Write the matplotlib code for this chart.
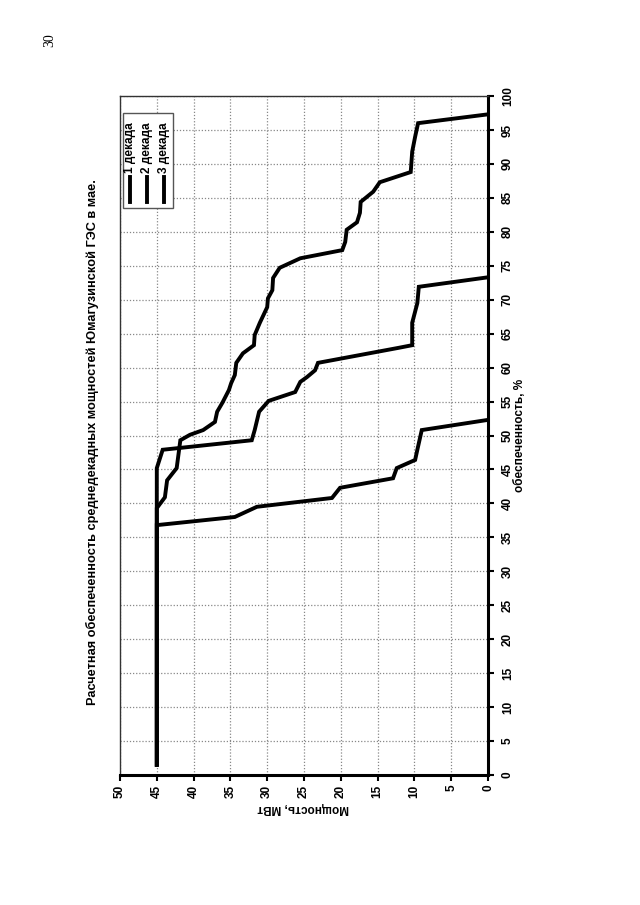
import matplotlib
matplotlib.use('Agg')
import matplotlib.pyplot as plt
from matplotlib.patches import Rectangle
from matplotlib.lines import Line2D

plt.rcParams['font.family'] = ['Liberation Sans', 'DejaVu Sans']

title = 'Расчетная обеспеченность среднедекадных мощностей Юмагузинской ГЭС в мае.'
xlabel = 'обеспеченность, %'
ylabel = 'Мощность, МВт'
labels = ['1 декада', '2 декада', '3 декада']

# обеспеченность, % / мощность, МВт
p1 = [1.5, 39.3, 40.9, 43.4, 45.2, 49.3, 50.1, 50.8, 52.0, 53.5, 54.8, 56.7, 57.7, 58.9,
      60.7, 62.1, 63.3, 64.8, 66.6, 68.9, 70.2, 71.4, 73.2, 74.7, 76.1, 77.3, 78.5, 80.3,
      81.4, 82.8, 84.4, 85.9, 87.3, 88.8, 91.8, 94.0, 96.0, 97.3]
n1 = [45.0, 45.0, 43.9, 43.6, 42.3, 41.8, 40.5, 38.7, 37.1, 36.8, 36.1, 35.2, 34.9, 34.4,
      34.2, 33.3, 31.8, 31.7, 31.0, 30.0, 29.9, 29.3, 29.2, 28.3, 25.5, 19.8, 19.4, 19.2,
      17.8, 17.4, 17.3, 15.6, 14.7, 10.5, 10.3, 9.9, 9.5, 0.0]

p2 = [1.5, 45.2, 47.9, 49.3, 50.8, 53.5, 55.1, 56.4, 57.9, 58.6, 59.6, 60.7, 62.9, 63.3,
      66.6, 69.5, 71.9, 73.3]
n2 = [45.0, 45.0, 44.2, 32.1, 31.7, 31.1, 29.8, 26.2, 25.5, 24.6, 23.5, 23.1, 12.2, 10.3,
      10.3, 9.6, 9.4, 0.0]

p3 = [1.5, 36.8, 38.0, 39.5, 40.8, 42.3, 43.7, 45.2, 46.4, 47.9, 50.8, 52.3]
n3 = [45.0, 45.0, 34.4, 31.4, 21.2, 20.1, 12.9, 12.4, 9.9, 9.6, 9.0, 0.0]

fig = plt.figure(figsize=(6.4, 9.05), dpi=100)
ax = fig.add_axes([120 / 640, 1 - 775 / 905, 368 / 640, 679 / 905])

# the page is turned: power runs right-to-left, percent bottom-to-top
for p, n in [(p1, n1), (p2, n2), (p3, n3)]:
    ax.plot(n, p, color='black', lw=2.8, solid_joinstyle='miter')

ax.set_xlim(50, 0)
ax.set_ylim(0, 100)
ax.set_xticks(range(0, 51, 5))
ax.set_yticks(range(0, 101, 5))
ax.yaxis.tick_right()
ax.grid(True, color='#888888', linestyle=(0, (1, 1.5)), lw=0.9)

for s in ['left', 'top']:
    ax.spines[s].set_linewidth(1.0)
    ax.spines[s].set_color('#333333')
for s in ['right', 'bottom']:
    ax.spines[s].set_linewidth(2.2)

ax.tick_params(axis='x', direction='out', length=4, width=1.5, pad=3, labelsize=8.5,
               labelrotation=90)
ax.tick_params(axis='y', direction='out', length=4, width=1.5, pad=6, labelsize=8.5,
               labelrotation=90)
for t in ax.get_xticklabels() + ax.get_yticklabels():
    t.set_fontweight('bold')
for t in ax.get_yticklabels():
    t.set_va('center')

fig.text(303 / 640, 1 - 808 / 905, ylabel, rotation=180, ha='center', va='center',
         fontsize=8.5, fontweight='bold')
fig.text(520 / 640, 1 - 435 / 905, xlabel, rotation=90, ha='center', va='center',
         fontsize=8.5, fontweight='bold')
fig.text(92 / 640, 1 - 442 / 905, title, rotation=90, ha='center', va='center',
         fontsize=9.2, fontweight='bold')
fig.text(50 / 640, 1 - 40 / 905, '30', rotation=90, ha='center', va='center',
         fontsize=10, family='Liberation Serif')

# legend, turned with the chart
ax.add_patch(Rectangle((0.008, 0.835), 0.136, 0.14, transform=ax.transAxes,
                       facecolor='white', edgecolor='#555555', lw=1.0, zorder=5))
for i, lab in enumerate(labels):
    x = 0.027 + i * 0.0465
    ax.add_line(Line2D([x, x], [0.844, 0.881], transform=ax.transAxes, color='black',
                       lw=2.8, zorder=6))
    ax.text(x, 0.886, lab, transform=ax.transAxes, rotation=90, ha='center', va='bottom',
            fontsize=8.5, fontweight='bold', zorder=6)

fig.savefig('out.png', dpi=100)
